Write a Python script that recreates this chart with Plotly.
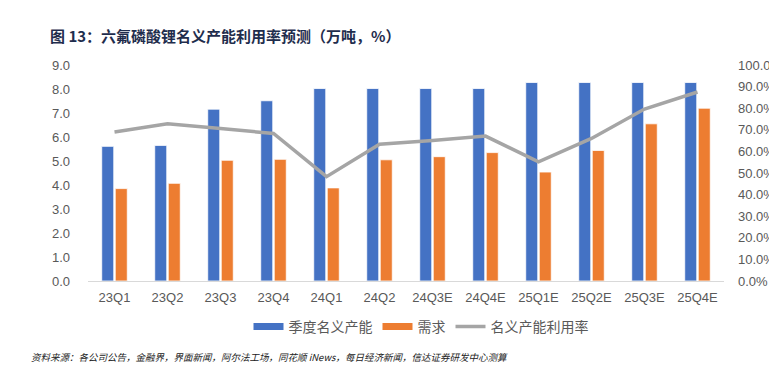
import plotly.graph_objects as go

categories = ["23Q1", "23Q2", "23Q3", "23Q4", "24Q1", "24Q2", "24Q3E", "24Q4E",
              "25Q1E", "25Q2E", "25Q3E", "25Q4E"]
capacity = [5.61, 5.65, 7.16, 7.51, 8.02, 8.02, 8.02, 8.02, 8.27, 8.27, 8.27, 8.27]
demand = [3.85, 4.07, 5.03, 5.07, 3.88, 5.05, 5.18, 5.35, 4.54, 5.44, 6.55, 7.20]
utilization = [69.0, 72.8, 70.6, 68.3, 48.3, 63.3, 65.1, 67.1, 55.2, 66.0, 79.6, 87.5]

left_ticks = [i for i in range(10)]
left_labels = [f"{v:.1f}" for v in left_ticks]
right_ticks = [i * 10 for i in range(11)]
right_labels = [f"{v:.1f}%" for v in right_ticks]

BLUE = "#4472C4"
ORANGE = "#ED7D31"
GRAY = "#A5A5A5"
FONT = "Noto Sans CJK SC"
TICKC = "#595959"

# page body has an 8px default margin; figure is sized to end at the window edge
OFF = 8
W, H = 777 - OFF, 368 - OFF
# plot area in page pixels
PX0, PX1, PY0, PY1 = 87.5, 724, 64.5, 281
L, R = PX0 - OFF, W - (PX1 - OFF)
T, B = PY0 - OFF, H - (PY1 - OFF)

fig = go.Figure()
fig.add_trace(go.Bar(x=categories, y=capacity, marker=dict(color=BLUE, line=dict(color="white", width=0.8)),
                     showlegend=False, name="季度名义产能"))
fig.add_trace(go.Bar(x=categories, y=demand, marker=dict(color=ORANGE, line=dict(color="white", width=0.8)),
                     showlegend=False, name="需求"))
fig.add_trace(go.Scatter(x=categories, y=utilization, yaxis="y2", mode="lines",
                         line=dict(color=GRAY, width=3.5), showlegend=False, name="名义产能利用率"))
# legend entries
fig.add_trace(go.Scatter(x=[None], y=[None], mode="lines", line=dict(color=BLUE, width=7), name="季度名义产能"))
fig.add_trace(go.Scatter(x=[None], y=[None], mode="lines", line=dict(color=ORANGE, width=7), name="需求"))
fig.add_trace(go.Scatter(x=[None], y=[None], mode="lines", line=dict(color=GRAY, width=3.5), name="名义产能利用率"))

tickfont = dict(family="Liberation Sans, Arial", size=13, color=TICKC)
fig.update_layout(
    width=W, height=H,
    margin=dict(l=L, r=R, t=T, b=B, autoexpand=False),
    paper_bgcolor="white", plot_bgcolor="white",
    barmode="group", bargap=0.49, bargroupgap=0.11,
    font=dict(family=FONT, color=TICKC, size=13),
    xaxis=dict(tickfont=tickfont, showline=True, linecolor="#D9D9D9", linewidth=1, showgrid=False,
               ticks="", ticklabelstandoff=4, automargin=False),
    yaxis=dict(range=[0, 9], tickvals=left_ticks, ticktext=left_labels, showgrid=False,
               zeroline=False, tickfont=tickfont, ticks="", ticklabelstandoff=17, automargin=False),
    yaxis2=dict(range=[0, 100], tickvals=right_ticks, ticktext=right_labels, overlaying="y",
                side="right", showgrid=False, zeroline=False, tickfont=tickfont,
                ticks="", ticklabelstandoff=13, automargin=False),
    legend=dict(orientation="h", x=(421 - OFF) / W, xanchor="center", y=1 - (327 - OFF) / H, yanchor="middle",
                yref="container", xref="container",
                font=dict(family=FONT, size=14, color=TICKC), itemwidth=30, traceorder="normal"),
    showlegend=True,
    title=dict(text="<b>图 13：六氟磷酸锂名义产能利用率预测（万吨，%）</b>", xref="container", yref="container",
               x=(50 - OFF) / W, xanchor="left", y=1 - (37 - OFF) / H, yanchor="middle",
               font=dict(family=FONT, size=15, color="#1F2D4D")),
)

fig.add_annotation(text="<i>资料来源：各公司公告，金融界，界面新闻，阿尔法工场，同花顺 iNews，每日经济新闻，信达证券研发中心测算</i>",
                   xref="paper", yref="paper", x=(28 - PX0) / (PX1 - PX0), xanchor="left",
                   y=-(357 - PY1) / (PY1 - PY0), yanchor="middle", showarrow=False,
                   font=dict(family=FONT, size=9.5, color="#222222"))

fig.write_html("out.html")
